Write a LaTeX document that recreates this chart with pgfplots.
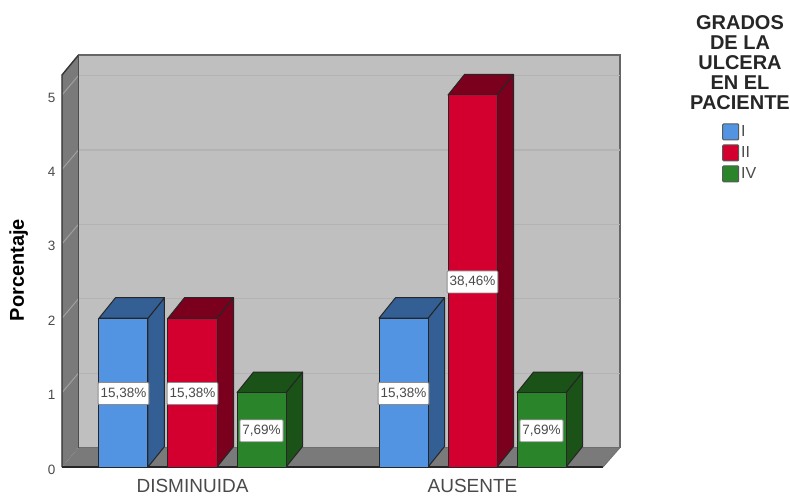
\documentclass[border=0pt]{standalone}
\usepackage{pgfplots}
\pgfplotsset{compat=1.18}
\usepackage{fontspec}
\setmainfont{Liberation Sans}
\definecolor{cblue}{HTML}{5294E2}
\definecolor{cblueD}{HTML}{345F94}
\definecolor{cred}{HTML}{D3002F}
\definecolor{credD}{HTML}{7A001E}
\definecolor{cgreen}{HTML}{2A852A}
\definecolor{cgreenD}{HTML}{1A5218}
\definecolor{wall}{HTML}{BFBFBF}
\definecolor{wallD}{HTML}{7A7A7A}
\definecolor{gridB}{HTML}{B3B3B3}
\definecolor{gridL}{HTML}{A0A0A0}
\definecolor{txt}{HTML}{4A4A4A}
\pgfplotsset{
 face/.style={draw=black!85,line width=1pt,line join=round},
 frontbar/.style={ybar,bar width=49pt,bar shift=0pt,draw=black!85,line width=1pt,
   legend image code/.code={\draw[##1,draw=black!65,rounded corners=1pt] (0pt,-8pt) rectangle (16pt,8pt);}},
 gridb/.style={draw=gridB,line width=1.2pt,forget plot},
 gridl/.style={draw=gridL,line width=1pt,forget plot},
}
\begin{document}
\begin{tikzpicture}[x=1pt,y=1pt]
\path[use as bounding box] (-62pt,-31pt) rectangle (728pt,467pt);
\begin{axis}[
  scale only axis,width=558pt,height=412pt,
  xmin=62,xmax=620,ymin=0,ymax=5.5376,
  clip=false,
  axis line style={draw=none},
  tick style={draw=none},
  xtick={192.5,472.5},
  xticklabels={DISMINUIDA,AUSENTE},
  ytick={0,1,2,3,4,5},
  /pgf/number format/assume math mode=true,
  xticklabel style={font=\fontsize{19}{21}\selectfont,text=txt,yshift=-9pt},
  yticklabel style={font=\fontsize{13.5}{15}\selectfont,text=txt,yshift=-2.5pt,xshift=-3pt},
  ylabel={Porcentaje},
  every axis y label/.style={at={(rel axis cs:-0.0775,0.478)},rotate=90,anchor=center,font=\bfseries\fontsize{20}{22}\selectfont},
  legend style={at={(rel axis cs:1.1828,0.8345)},anchor=north west,draw=none,fill=none,
    font=\fontsize{16}{16}\selectfont,text=txt,row sep=4pt,inner sep=0pt,
    /tikz/every even column/.append style={column sep=2pt}},
  legend cell align=left,
]
% walls and floor
\addplot[fill=wall,draw=black!60,line width=1.2pt,forget plot] coordinates {(78.5,0.262)(620,0.262)(620,5.5376)(78.5,5.5376)} --cycle;
\addplot[fill=wallD,draw=none,forget plot] coordinates {(62,0)(78.5,0.262)(78.5,5.5376)(62,5.269)} --cycle;
\addplot[fill=wallD,draw=none,forget plot] coordinates {(62,0)(603,0)(620,0.262)(78.5,0.262)} --cycle;
% grid
\addplot[gridb] coordinates {(78.5,1.262)(620,1.262)};
\addplot[gridb] coordinates {(78.5,2.262)(620,2.262)};
\addplot[gridb] coordinates {(78.5,3.262)(620,3.262)};
\addplot[gridb] coordinates {(78.5,4.262)(620,4.262)};
\addplot[gridb] coordinates {(78.5,5.262)(620,5.262)};
\addplot[gridl] coordinates {(62,1)(78.5,1.262)};
\addplot[gridl] coordinates {(62,2)(78.5,2.262)};
\addplot[gridl] coordinates {(62,3)(78.5,3.262)};
\addplot[gridl] coordinates {(62,4)(78.5,4.262)};
\addplot[gridl] coordinates {(62,5)(78.5,5.262)};
% frame lines
\addplot[draw=black!80,line width=1.4pt,forget plot] coordinates {(62,0)(62,5.269)(78.5,5.5376)};
\addplot[draw=black!70,line width=1.4pt,forget plot] coordinates {(78.5,0.262)(78.5,5.5376)};
\addplot[draw=black!85,line width=1.4pt,forget plot] coordinates {(62,0)(603,0)};
\addplot[draw=black!55,line width=1pt,forget plot] coordinates {(603,0)(620,0.262)};
% side and top faces
\addplot[face,fill=cblueD,forget plot] coordinates {(148,0)(164.5,0.2755)(164.5,2.2755)(148,2)} --cycle;
\addplot[face,fill=cblueD,forget plot] coordinates {(99,2)(148,2)(164.5,2.2755)(115.5,2.2755)} --cycle;
\addplot[face,fill=credD,forget plot] coordinates {(217,0)(233.5,0.2755)(233.5,2.2755)(217,2)} --cycle;
\addplot[face,fill=credD,forget plot] coordinates {(168,2)(217,2)(233.5,2.2755)(184.5,2.2755)} --cycle;
\addplot[face,fill=cgreenD,forget plot] coordinates {(286,0)(302.5,0.2755)(302.5,1.2755)(286,1)} --cycle;
\addplot[face,fill=cgreenD,forget plot] coordinates {(237,1)(286,1)(302.5,1.2755)(253.5,1.2755)} --cycle;
\addplot[face,fill=cblueD,forget plot] coordinates {(428,0)(444.5,0.2755)(444.5,2.2755)(428,2)} --cycle;
\addplot[face,fill=cblueD,forget plot] coordinates {(379,2)(428,2)(444.5,2.2755)(395.5,2.2755)} --cycle;
\addplot[face,fill=credD,forget plot] coordinates {(497,0)(513.5,0.2755)(513.5,5.2755)(497,5)} --cycle;
\addplot[face,fill=credD,forget plot] coordinates {(448,5)(497,5)(513.5,5.2755)(464.5,5.2755)} --cycle;
\addplot[face,fill=cgreenD,forget plot] coordinates {(566,0)(582.5,0.2755)(582.5,1.2755)(566,1)} --cycle;
\addplot[face,fill=cgreenD,forget plot] coordinates {(517,1)(566,1)(582.5,1.2755)(533.5,1.2755)} --cycle;
% front faces
\addplot[frontbar,fill=cblue] coordinates {(123.5,2)(403.5,2)};
\addlegendentry{I}
\addplot[frontbar,fill=cred] coordinates {(192.5,2)(472.5,5)};
\addlegendentry{II}
\addplot[frontbar,fill=cgreen] coordinates {(261.5,1)(541.5,1)};
\addlegendentry{IV}
% value labels
\addplot[draw=none,forget plot,point meta=explicit symbolic,
  nodes near coords,
  every node near coord/.style={anchor=center,yshift=-1pt,fill=white,draw=black!45,line width=0.8pt,rounded corners=1pt,
    font=\fontsize{13.5}{15}\selectfont,text=txt,inner xsep=2.5pt,minimum height=22pt,inner ysep=0pt}]
  coordinates {(123.5,1)[15,38\%] (192.5,1)[15,38\%] (261.5,0.5)[7,69\%] (403.5,1)[15,38\%] (472.5,2.5)[38,46\%] (541.5,0.5)[7,69\%]};
\node[align=center,font=\bfseries\fontsize{20}{20}\selectfont,text=black!85] at (axis cs:740,5.441)
  {GRADOS\\DE LA\\ULCERA\\EN EL\\PACIENTE};
\end{axis}
\end{tikzpicture}
\end{document}
